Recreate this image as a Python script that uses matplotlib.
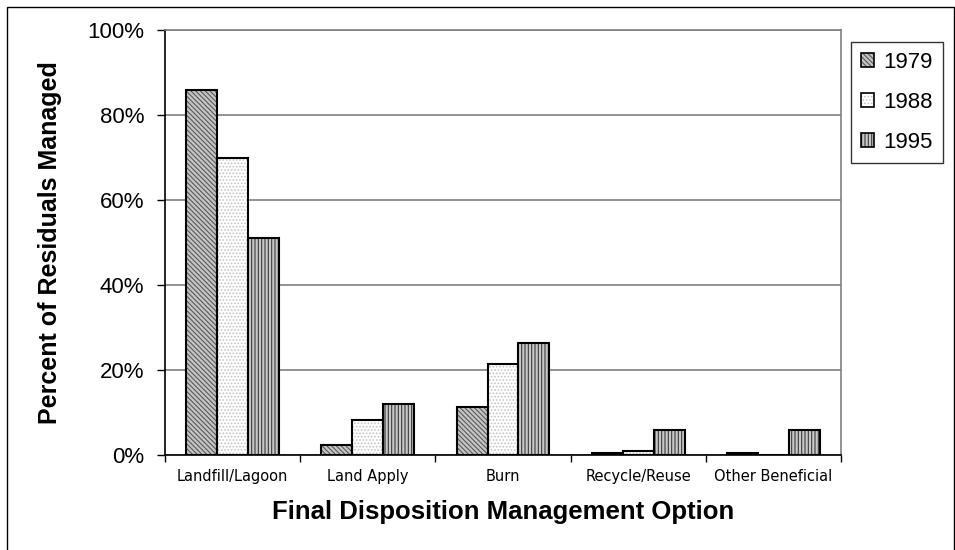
import numpy as np
import matplotlib
matplotlib.use("Agg")
import matplotlib.pyplot as plt
from matplotlib.patches import Rectangle
from matplotlib.legend_handler import HandlerTuple
from matplotlib.ticker import PercentFormatter

plt.rcParams['font.family'] = ['Liberation Sans', 'DejaVu Sans']
plt.rcParams['hatch.linewidth'] = 0.8

# share of residuals by final disposition option
categories = ['Landfill/Lagoon', 'Land Apply', 'Burn', 'Recycle/Reuse', 'Other Beneficial']
years = ['1979', '1988', '1995']
pct_1979 = [85.8, 2.3, 11.3, 0.5, 0.5]
pct_1988 = [70.0, 8.2, 21.4, 1.0, 0.0]
pct_1995 = [51.0, 12.0, 26.3, 6.0, 6.0]

W, H = 955, 550
fig = plt.figure(figsize=(W / 100, H / 100), dpi=100)
ax = fig.add_axes([165 / W, 95 / H, 676 / W, 425 / H])

# outer chart frame
fig.patches.append(Rectangle((7 / W, -5 / H), 947 / W, 548 / H,
                             transform=fig.transFigure, fill=False,
                             edgecolor='black', linewidth=1.0))

x = np.arange(len(categories))
w = 0.229
styles = [
    dict(facecolor='#c4c4c4', hatch='\\\\\\\\\\\\\\', edgecolor='#5a5a5a'),
    dict(facecolor='white', hatch='.....', edgecolor='#c4c4c4'),
    dict(facecolor='#c8c8c8', hatch='|||||', edgecolor='#3a3a3a'),
]
series = [pct_1979, pct_1988, pct_1995]
handles = []
for i, (vals, st) in enumerate(zip(series, styles)):
    ax.bar(x + (i - 1) * w, vals, width=w,
           facecolor=st['facecolor'], hatch=st['hatch'],
           edgecolor=st['edgecolor'], linewidth=0, zorder=3)
    # black outlines drawn on top of the hatching
    ax.bar(x + (i - 1) * w, vals, width=w, fill=False,
           edgecolor='black', linewidth=1.5, zorder=4)
    # legend swatch: hatched fill plus black outline
    swatch = Rectangle((0, 0), 1, 1, facecolor=st['facecolor'], hatch=st['hatch'],
                       edgecolor=st['edgecolor'], linewidth=0)
    outline = Rectangle((0, 0), 1, 1, fill=False, edgecolor='black', linewidth=1.2)
    handles.append((swatch, outline))

ax.set_xlim(-0.5, len(categories) - 0.5)
ax.set_ylim(0, 100)
ax.set_yticks([0, 20, 40, 60, 80, 100])
ax.yaxis.set_major_formatter(PercentFormatter(decimals=0))
ax.grid(axis='y', color='#808080', linewidth=1.2, zorder=0)

for side in ['top', 'right']:
    ax.spines[side].set_color('#808080')
    ax.spines[side].set_linewidth(1.2)
for side in ['left', 'bottom']:
    ax.spines[side].set_linewidth(1.2)

ax.tick_params(axis='y', labelsize=16, length=6, width=1.0, pad=9)
ax.set_xticks(np.arange(len(categories) + 1) - 0.5)
ax.set_xticklabels([])
ax.tick_params(axis='x', length=5, width=1.0)
ax.set_xticks(x, minor=True)
ax.set_xticklabels(categories, minor=True, fontsize=10.5,
                   family=['Liberation Sans Narrow', 'DejaVu Sans'])
ax.tick_params(axis='x', which='minor', length=0, pad=10)

ax.set_ylabel('Percent of Residuals Managed', fontsize=18, fontweight='bold')
ax.yaxis.set_label_coords(-0.152, 0.5)
ax.set_xlabel('Final Disposition Management Option', fontsize=18.5, fontweight='bold')
ax.xaxis.set_label_coords(0.5, -0.106)

leg = ax.legend(handles, years, handler_map={tuple: HandlerTuple(ndivide=1)},
                loc='upper left', bbox_to_anchor=(851 / W, 1 - 42 / H),
                bbox_transform=fig.transFigure, fontsize=16, frameon=True,
                fancybox=False, edgecolor='black', handlelength=0.6,
                handleheight=0.6, handletextpad=0.4, labelspacing=0.85,
                borderpad=0.45, borderaxespad=0)
leg.get_frame().set_linewidth(1.0)

fig.savefig('out.png', dpi=100)
